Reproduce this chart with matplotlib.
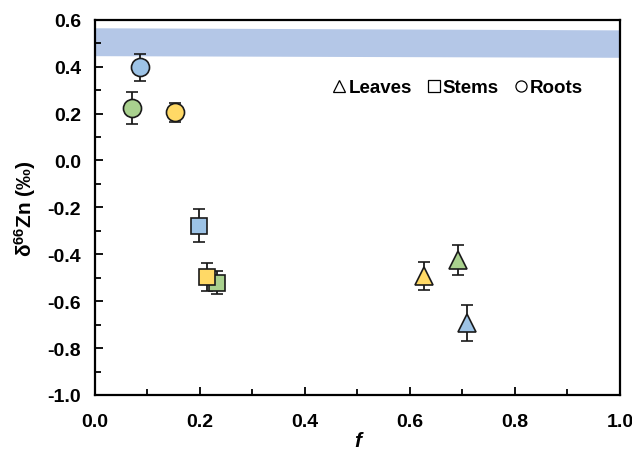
import numpy as np
import matplotlib
matplotlib.use("Agg")
import matplotlib.pyplot as plt
from matplotlib.lines import Line2D
from matplotlib.ticker import MultipleLocator

plt.rcParams["font.family"] = ["Liberation Sans", "DejaVu Sans"]
plt.rcParams["font.weight"] = "bold"
plt.rcParams["mathtext.fontset"] = "custom"
plt.rcParams["mathtext.bf"] = "Liberation Sans:bold"
plt.rcParams["mathtext.rm"] = "Liberation Sans:bold"
plt.rcParams["mathtext.default"] = "bf"

# ── data ────────────────────────────────────────────────────────────────────
colors = ["#9DC3E6", "#A9D18E", "#FFD966"]   # blue, green, yellow

roots_f = [0.087, 0.070, 0.153]
roots_d = [0.397, 0.224, 0.205]
roots_e = [0.058, 0.070, 0.040]

stems_f = [0.199, 0.233, 0.214]
stems_d = [-0.279, -0.521, -0.498]
stems_e = [0.070, 0.050, 0.060]

leaves_f = [0.708, 0.691, 0.627]
leaves_d = [-0.695, -0.425, -0.493]
leaves_e = [0.077, 0.065, 0.060]

band_x = [0.0, 1.0]
band_lo = [0.447, 0.440]
band_hi = [0.566, 0.557]

fig = plt.figure(figsize=(6.32, 4.52), dpi=100)
ax = fig.add_axes([0.150, 0.124, 0.831, 0.830])

ax.fill_between(band_x, band_lo, band_hi, color="#B4C7E7", lw=0, zorder=1)

groups = [
    (roots_f, roots_d, roots_e, "o", 13),
    (stems_f, stems_d, stems_e, "s", 12),
    (leaves_f, leaves_d, leaves_e, "^", 13),
]
for fx, dy, err, mk, ms in groups:
    for i in range(len(fx)):
        ax.errorbar(fx[i], dy[i], yerr=err[i], fmt=mk, ms=ms,
                    mfc=colors[i], mec="#1a1a1a", mew=1.2,
                    ecolor="#1a1a1a", elinewidth=1.3, capsize=4, capthick=1.3,
                    zorder=3)

ax.set_xlim(0, 1.0)
ax.set_ylim(-1.0, 0.6)
ax.xaxis.set_major_locator(MultipleLocator(0.2))
ax.xaxis.set_minor_locator(MultipleLocator(0.1))
ax.yaxis.set_major_locator(MultipleLocator(0.2))
ax.yaxis.set_minor_locator(MultipleLocator(0.1))
ax.xaxis.set_major_formatter(lambda v, p: f"{v:.1f}")
ax.yaxis.set_major_formatter(lambda v, p: f"{v:.1f}")
ax.tick_params(which="both", direction="in", width=1.3, labelsize=14)
ax.tick_params(which="major", length=6)
ax.tick_params(which="minor", length=4)
ax.tick_params(axis="x", pad=13)
ax.tick_params(axis="y", pad=10)
for s in ax.spines.values():
    s.set_linewidth(1.6)

ax.set_xlabel("f", fontsize=15, fontweight="bold", style="italic", labelpad=1)
ax.set_ylabel("δ$^{66}$Zn (‰)", fontsize=15, fontweight="bold", labelpad=7)

handles = [Line2D([], [], ls="none", marker=m, ms=8, mfc="white", mec="black", mew=0.9)
           for m in ["^", "s", "o"]]
ax.legend(handles, ["Leaves", "Stems", "Roots"], ncol=3, frameon=False,
          loc="center right", bbox_to_anchor=(0.962, 0.819), fontsize=13.5,
          handletextpad=0.05, columnspacing=0.7, handlelength=0.9)

fig.savefig("out.png", dpi=100)
